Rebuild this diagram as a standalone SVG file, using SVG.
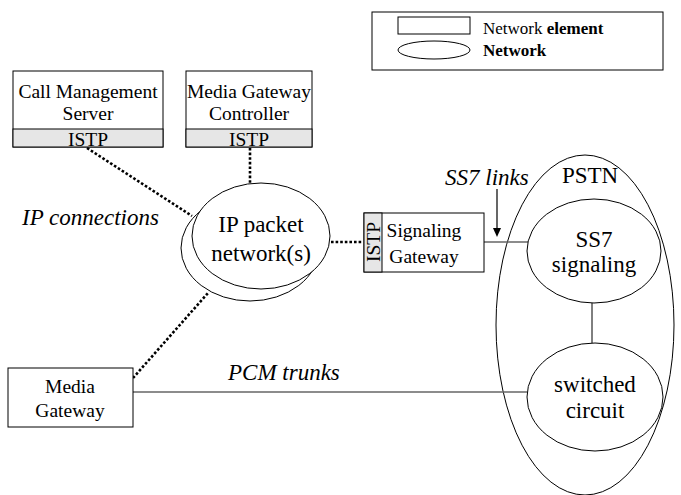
<svg xmlns="http://www.w3.org/2000/svg" width="681" height="495" viewBox="0 0 681 495">
<style>
.box{fill:#fff;stroke:#000;stroke-width:1}
.band{fill:#e6e6e6;stroke:#000;stroke-width:1}
.ell{fill:#fff;stroke:#000;stroke-width:1}
.t{font-family:"Liberation Serif","Times New Roman",serif;fill:#000;text-anchor:middle}
.lbl{font-size:19.5px}
.big{font-size:23px}
.it{font-family:"Liberation Serif","Times New Roman",serif;font-style:italic;font-size:23px;fill:#000}
.leg{font-family:"Liberation Serif","Times New Roman",serif;font-size:17px;fill:#000}
.dot{stroke:#000;stroke-width:2.6;stroke-dasharray:2.6 2;fill:none}
.sol{stroke:#666;stroke-width:1.6;fill:none}
</style>
<rect width="681" height="495" fill="#fff"/>

<g id="legend">
<rect x="372" y="12" width="291" height="58" fill="#fff" stroke="#000" stroke-width="1"/>
<rect x="398" y="17" width="72" height="17" fill="#fff" stroke="#000" stroke-width="1"/>
<ellipse cx="434" cy="50" rx="36" ry="9" fill="#fff" stroke="#000" stroke-width="1"/>
<text class="leg" x="483" y="34">Network <tspan font-weight="bold">element</tspan></text>
<text class="leg" x="483" y="56" font-weight="bold">Network</text>
</g>

<g id="pstn">
<ellipse cx="585" cy="325" rx="89" ry="170" fill="none" stroke="#000" stroke-width="1"/>
<text class="t big" x="590" y="183">PSTN</text>
</g>

<g id="connectors">
<line class="dot" x1="87" y1="148" x2="192" y2="216"/>
<line class="dot" x1="250" y1="148" x2="250" y2="184"/>
<line class="dot" x1="331" y1="242" x2="362" y2="242"/>
<line class="dot" x1="133" y1="378" x2="208" y2="293"/>
<line class="sol" x1="484" y1="242" x2="528" y2="242"/>
<line class="sol" x1="127" y1="392" x2="527" y2="392"/>
<line x1="592" y1="303" x2="592" y2="343" stroke="#000" stroke-width="1"/>
<line x1="497" y1="189" x2="497" y2="229" stroke="#000" stroke-width="1.2"/>
<polygon points="493,228 501,228 497,237" fill="#000"/>
</g>

<g id="cms">
<rect class="box" x="13" y="71" width="150" height="76"/>
<rect class="band" x="13" y="129" width="150" height="18"/>
<text class="t lbl" x="88" y="98">Call Management</text>
<text class="t lbl" x="88" y="120">Server</text>
<text class="t lbl" x="88" y="146">ISTP</text>
</g>

<g id="mgc">
<rect class="box" x="186" y="71" width="126" height="76"/>
<rect class="band" x="186" y="129" width="126" height="18"/>
<text class="t lbl" x="249" y="98">Media Gateway</text>
<text class="t lbl" x="249" y="120">Controller</text>
<text class="t lbl" x="249" y="146">ISTP</text>
</g>

<g id="ipnet">
<ellipse class="ell" cx="250" cy="248" rx="69" ry="53"/>
<ellipse class="ell" cx="261" cy="236" rx="69" ry="53"/>
<text class="t big" x="261" y="232">IP packet</text>
<text class="t big" x="261" y="261">network(s)</text>
</g>

<g id="sg">
<rect class="box" x="364" y="213" width="120" height="59"/>
<rect class="band" x="364" y="213" width="18" height="59"/>
<text class="t lbl" transform="translate(380,242) rotate(-90)" x="0" y="0">ISTP</text>
<text class="t lbl" x="424" y="237">Signaling</text>
<text class="t lbl" x="424" y="263">Gateway</text>
</g>

<g id="ss7">
<ellipse class="ell" cx="594" cy="251" rx="67" ry="52"/>
<text class="t big" x="594" y="247">SS7</text>
<text class="t big" x="594" y="272">signaling</text>
</g>

<g id="sc">
<ellipse class="ell" cx="595" cy="397" rx="68" ry="54"/>
<text class="t big" x="595" y="392">switched</text>
<text class="t big" x="595" y="418">circuit</text>
</g>

<g id="mg">
<rect class="box" x="8" y="368" width="125" height="59"/>
<text class="t lbl" x="70" y="393">Media</text>
<text class="t lbl" x="70" y="417">Gateway</text>
</g>

<g id="labels">
<text class="it" x="22" y="225">IP connections</text>
<text class="it" x="445" y="185">SS7 links</text>
<text class="it" x="228" y="380">PCM trunks</text>
</g>
</svg>
